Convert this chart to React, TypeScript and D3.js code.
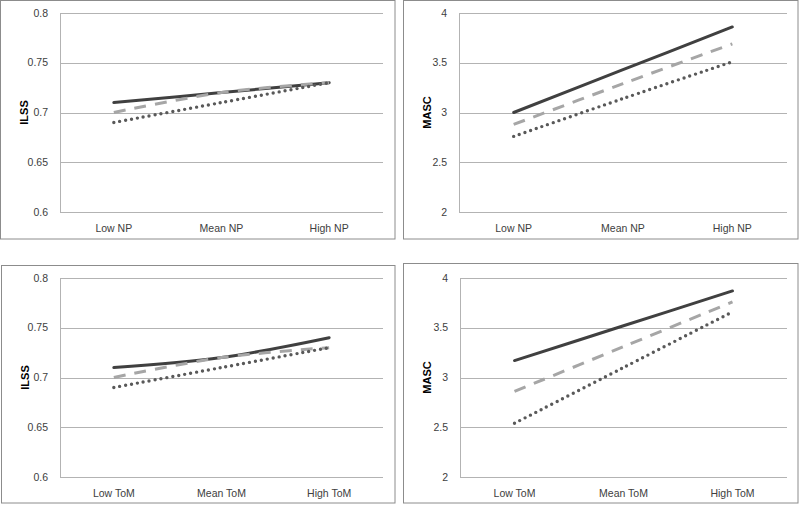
import React from "react";
import * as d3 from "d3";

const npCategories = ["Low NP", "Mean NP", "High NP"];
const tomCategories = ["Low ToM", "Mean ToM", "High ToM"];

const ilssTicks = [0.6, 0.65, 0.7, 0.75, 0.8];
const ilssTickLabels = ["0.6", "0.65", "0.7", "0.75", "0.8"];
const mascTicks = [2, 2.5, 3, 3.5, 4];
const mascTickLabels = ["2", "2.5", "3", "3.5", "4"];

// ILSS by NP
const ilssNpSolid = [0.71, 0.72, 0.73];
const ilssNpDashed = [0.70, 0.72, 0.73];
const ilssNpDotted = [0.69, 0.71, 0.73];
// MASC by NP
const mascNpSolid = [3.0, 3.43, 3.86];
const mascNpDashed = [2.88, 3.29, 3.69];
const mascNpDotted = [2.76, 3.14, 3.51];
// ILSS by ToM
const ilssTomSolid = [0.71, 0.72, 0.74];
const ilssTomDashed = [0.70, 0.72, 0.73];
const ilssTomDotted = [0.69, 0.71, 0.73];
// MASC by ToM
const mascTomSolid = [3.17, 3.52, 3.87];
const mascTomDashed = [2.86, 3.31, 3.76];
const mascTomDotted = [2.54, 3.1, 3.66];

type Panel = {
  box: [number, number, number, number];
  plot: [number, number, number, number];
  title: string;
  cats: string[];
  ticks: number[];
  tickLabels: string[];
  domain: [number, number];
  series: number[][];
};

const panels: Panel[] = [
  { box: [0.5, 0.5, 395, 239], plot: [60, 13, 383, 212], title: "ILSS", cats: npCategories, ticks: ilssTicks, tickLabels: ilssTickLabels, domain: [0.6, 0.8], series: [ilssNpSolid, ilssNpDashed, ilssNpDotted] },
  { box: [403.5, 0.5, 798, 239], plot: [459, 13, 787, 212], title: "MASC", cats: npCategories, ticks: mascTicks, tickLabels: mascTickLabels, domain: [2, 4], series: [mascNpSolid, mascNpDashed, mascNpDotted] },
  { box: [1.5, 265.5, 395, 503], plot: [60, 278, 383, 477], title: "ILSS", cats: tomCategories, ticks: ilssTicks, tickLabels: ilssTickLabels, domain: [0.6, 0.8], series: [ilssTomSolid, ilssTomDashed, ilssTomDotted] },
  { box: [403.5, 263.5, 798, 503], plot: [460, 278, 787, 477], title: "MASC", cats: tomCategories, ticks: mascTicks, tickLabels: mascTickLabels, domain: [2, 4], series: [mascTomSolid, mascTomDashed, mascTomDotted] },
];

const seriesStyles = [
  { stroke: "#404040", width: 3, dash: undefined as string | undefined, cap: "round" },
  { stroke: "#a6a6a6", width: 3, dash: "12 9", cap: "butt" },
  { stroke: "#595959", width: 3.4, dash: "0 6", cap: "round" },
];

const FONT = "'Liberation Sans', 'Open Sans', sans-serif";

function ChartPanel({ p }: { p: Panel }) {
  const [x0, y0, x1, y1] = p.plot;
  const x = d3.scaleBand<string>().domain(p.cats).range([x0, x1]);
  const y = d3.scaleLinear().domain(p.domain).range([y1, y0]);
  const line = d3
    .line<number>()
    .x((_, i) => (x(p.cats[i]) as number) + x.bandwidth() / 2)
    .y((d) => y(d))
    .curve(d3.curveCatmullRom.alpha(0.5));
  const [bx0, by0, bx1, by1] = p.box;
  return (
    <g>
      <rect x={bx0} y={by0} width={bx1 - bx0} height={by1 - by0} fill="#fff" stroke="#8c8c8c" strokeWidth={1} />
      {p.ticks.map((t, i) => (
        <g key={i}>
          <line x1={x0} x2={x1} y1={Math.round(y(t)) + 0.5} y2={Math.round(y(t)) + 0.5} stroke="#b3b3b3" strokeWidth={1} />
          <text x={x0 - 12} y={y(t)} dy="0.35em" textAnchor="end" fontSize={10.5} fill="#404040" fontFamily={FONT}>
            {p.tickLabels[i]}
          </text>
        </g>
      ))}
      <line x1={x0 + 0.5} x2={x0 + 0.5} y1={y0} y2={y1} stroke="#b3b3b3" strokeWidth={1} />
      {p.cats.map((c) => (
        <text key={c} x={(x(c) as number) + x.bandwidth() / 2} y={y1 + 20} textAnchor="middle" fontSize={10.5} fill="#404040" fontFamily={FONT}>
          {c}
        </text>
      ))}
      <text
        transform={`translate(${bx0 + 27},${(y0 + y1) / 2}) rotate(-90)`}
        textAnchor="middle"
        fontSize={11}
        fontWeight="bold"
        fill="#000"
        fontFamily={FONT}
      >
        {p.title}
      </text>
      {p.series.map((s, i) => {
        const st = seriesStyles[i];
        return (
          <path
            key={i}
            d={line(s) || ""}
            fill="none"
            stroke={st.stroke}
            strokeWidth={st.width}
            strokeDasharray={st.dash}
            strokeLinecap={st.cap as any}
          />
        );
      })}
    </g>
  );
}

export default function App() {
  return (
    <svg width={800} height={507} style={{ position: "absolute", left: 0, top: 0, background: "#fff" }}>
      <rect x={0} y={0} width={800} height={507} fill="#fff" />
      {panels.map((p, i) => (
        <ChartPanel key={i} p={p} />
      ))}
    </svg>
  );
}
